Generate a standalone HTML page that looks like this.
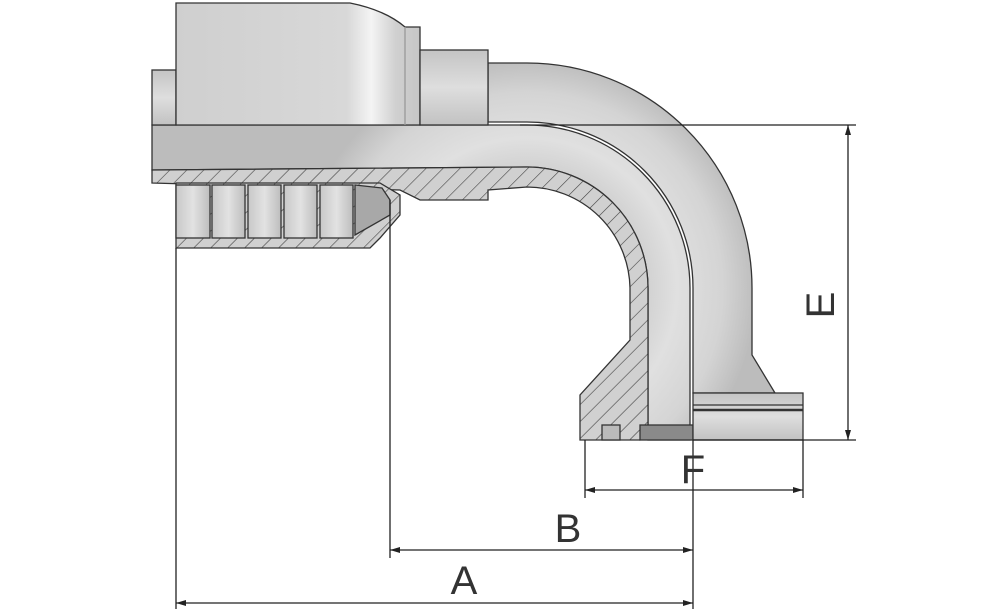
<!DOCTYPE html>
<html><head><style>
html,body{margin:0;padding:0;background:#fff;}
svg{display:block;}
text{font-family:"Liberation Sans",sans-serif;fill:#333;}
</style></head><body>
<svg width="1000" height="611" viewBox="0 0 1000 611" xmlns="http://www.w3.org/2000/svg">
<defs>
<linearGradient id="gv" x1="0" y1="0" x2="0" y2="1">
<stop offset="0" stop-color="#c4c4c4"/><stop offset="0.5" stop-color="#dedede"/><stop offset="1" stop-color="#c2c2c2"/>
</linearGradient>
<linearGradient id="gh" x1="0" y1="0" x2="1" y2="0">
<stop offset="0" stop-color="#c8c8c8"/><stop offset="0.5" stop-color="#e2e2e2"/><stop offset="1" stop-color="#bdbdbd"/>
</linearGradient>
<linearGradient id="gf" x1="0" y1="0" x2="1" y2="0">
<stop offset="0" stop-color="#cfcfcf"/><stop offset="0.7" stop-color="#d8d8d8"/><stop offset="0.8" stop-color="#f4f4f4"/><stop offset="0.9" stop-color="#d0d0d0"/><stop offset="1" stop-color="#c6c6c6"/>
</linearGradient>
<radialGradient id="gr" cx="527" cy="288" r="230" gradientUnits="userSpaceOnUse">
<stop offset="0.4" stop-color="#c4c4c4"/><stop offset="0.65" stop-color="#e0e0e0"/><stop offset="0.85" stop-color="#d4d4d4"/><stop offset="1" stop-color="#bcbcbc"/>
</radialGradient>
<pattern id="hatch" width="12" height="12" patternUnits="userSpaceOnUse" patternTransform="rotate(45)">
<rect width="12" height="12" fill="#d0d0d0"/><line x1="0" y1="0" x2="0" y2="12" stroke="#444" stroke-width="1.2"/>
</pattern>
</defs>
<g stroke="#333" stroke-width="1.3">
<!-- outer pipe bend (upper half outside) -->
<path d="M488,63 L527,63 A225,225 0 0 1 752,288 L752,355 L775,393 L693,393 L693,288 A166,166 0 0 0 527,122 L488,122 Z" fill="url(#gr)"/>
<!-- bore -->
<path d="M152,125 L527,125 A163,163 0 0 1 690,288 L690,440 L648,440 L648,288 A121,121 0 0 0 527,167 L152,170 Z" fill="url(#gr)"/>
<!-- hatched wall -->
<path d="M152,170 L527,167 A121,121 0 0 1 648,288 L648,425 L640,440 L580,440 L580,395 L630,340 L630,288 A103,103 0 0 0 527,187 L488,190 L488,200 L420,200 L400,190 L152,183 Z" fill="url(#hatch)"/>
<rect x="640" y="425" width="53" height="15" fill="#8a8a8a"/>
<rect x="602" y="425" width="18" height="15" fill="#bbb"/>
<!-- flange right -->
<rect x="693" y="393" width="110" height="47" fill="url(#gv)"/>
<line x1="693" y1="405" x2="803" y2="405"/><line x1="693" y1="410" x2="803" y2="410" stroke-width="2.5"/>
<!-- ferrule -->
<rect x="152" y="70" width="24" height="55" fill="url(#gv)"/>
<path d="M176,3 L350,3 Q385,10 405,27 L420,27 L420,125 L176,125 Z" fill="url(#gf)"/>
<line x1="405" y1="27" x2="405" y2="125" stroke="#999"/>
<rect x="420" y="50" width="68" height="75" fill="url(#gv)"/>
<!-- ferrule lower section -->
<path d="M176,183 L380,183 L400,195 L400,215 L380,238 L370,248 L176,248 Z" fill="url(#hatch)"/>
<rect x="176" y="185" width="34" height="53" fill="url(#gh)"/>
<rect x="212" y="185" width="33" height="53" fill="url(#gh)"/>
<rect x="248" y="185" width="33" height="53" fill="url(#gh)"/>
<rect x="284" y="185" width="33" height="53" fill="url(#gh)"/>
<rect x="320" y="185" width="33" height="53" fill="url(#gh)"/>
<path d="M355,185 L382,188 L390,200 L390,215 L355,235 Z" fill="#a8a8a8"/>
</g>
<!-- dimension lines -->
<g stroke="#222" stroke-width="1.3" fill="none">
<line x1="520" y1="125" x2="856" y2="125"/>
<line x1="693" y1="440" x2="856" y2="440"/>
<line x1="848" y1="125" x2="848" y2="440"/>
<line x1="176" y1="248" x2="176" y2="609"/>
<line x1="390" y1="200" x2="390" y2="558"/>
<line x1="693" y1="440" x2="693" y2="609"/>
<line x1="585" y1="440" x2="585" y2="498"/>
<line x1="803" y1="440" x2="803" y2="498"/>
<line x1="176" y1="603" x2="693" y2="603"/>
<line x1="390" y1="550" x2="693" y2="550"/>
<line x1="585" y1="490" x2="803" y2="490"/>
</g>
<g fill="#222">
<path d="M176,603 l10,-3 v6z"/><path d="M693,603 l-10,-3 v6z"/>
<path d="M390,550 l10,-3 v6z"/><path d="M693,550 l-10,-3 v6z"/>
<path d="M585,490 l10,-3 v6z"/><path d="M803,490 l-10,-3 v6z"/>
<path d="M848,125 l-3,10 h6z"/><path d="M848,440 l-3,-10 h6z"/>
</g>
<text x="464" y="594" font-size="40" text-anchor="middle">A</text>
<text x="568" y="542" font-size="40" text-anchor="middle">B</text>
<text x="693" y="483" font-size="40" text-anchor="middle">F</text>
<text x="0" y="0" font-size="40" text-anchor="middle" transform="translate(834,305) rotate(-90)">E</text>
</svg>
</body></html>
